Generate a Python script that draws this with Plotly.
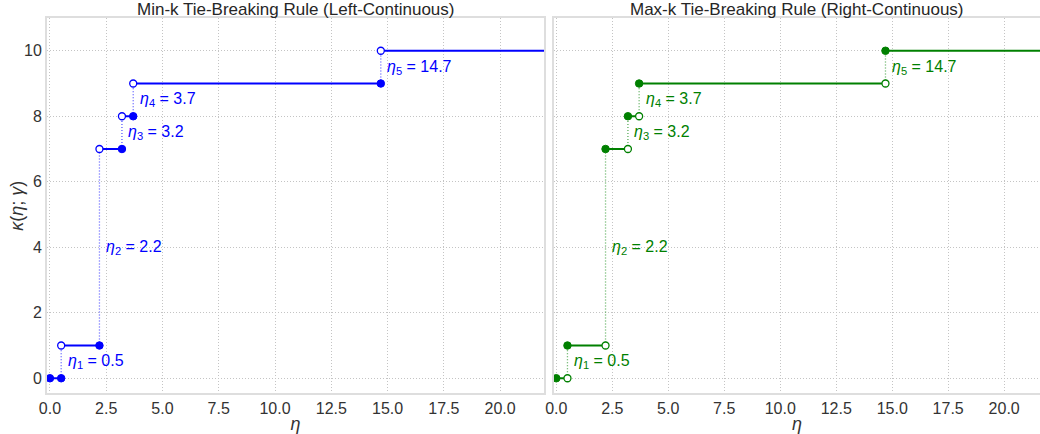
import plotly.graph_objects as go

# ---- data ----
breakpoints = [0.5, 2.2, 3.2, 3.7, 14.7]
levels = [0, 1, 7, 8, 9, 10]
x_start = 0.0
x_end = 23.0
eta_labels = ["0.5", "2.2", "3.2", "3.7", "14.7"]
titles = ["Min-k Tie-Breaking Rule (Left-Continuous)",
          "Max-k Tie-Breaking Rule (Right-Continuous)"]
colors = ["#0000ff", "#008000"]
x_ticks = [0.0, 2.5, 5.0, 7.5, 10.0, 12.5, 15.0, 17.5, 20.0]
y_ticks = [0, 2, 4, 6, 8, 10]

FONT = "Liberation Sans, Arial, sans-serif"
fig = go.Figure()

edges = [x_start] + breakpoints + [x_end]

for p, (color, mode) in enumerate(zip(colors, ["min", "max"])):
    xa = "x" if p == 0 else "x2"
    ya = "y" if p == 0 else "y2"
    # vertical dotted connectors
    for i, b in enumerate(breakpoints):
        fig.add_trace(go.Scatter(x=[b, b], y=[levels[i], levels[i + 1]], mode="lines",
                                 line=dict(color=color, width=1.3, dash="1px,2px"), opacity=0.65,
                                 xaxis=xa, yaxis=ya, showlegend=False, hoverinfo="skip"))
    # horizontal segments
    for i, lv in enumerate(levels):
        fig.add_trace(go.Scatter(x=[edges[i], edges[i + 1]], y=[lv, lv], mode="lines",
                                 line=dict(color=color, width=2),
                                 xaxis=xa, yaxis=ya, showlegend=False, hoverinfo="skip"))
    # endpoints
    filled_x, filled_y, open_x, open_y = [], [], [], []
    for i, lv in enumerate(levels):
        left, right = edges[i], edges[i + 1]
        has_right = i < len(breakpoints)
        if mode == "min":
            if i == 0:
                filled_x.append(left); filled_y.append(lv)
            else:
                open_x.append(left); open_y.append(lv)
            if has_right:
                filled_x.append(right); filled_y.append(lv)
        else:
            filled_x.append(left); filled_y.append(lv)
            if has_right:
                open_x.append(right); open_y.append(lv)
    fig.add_trace(go.Scatter(x=filled_x, y=filled_y, mode="markers",
                             marker=dict(color=color, size=7.5, line=dict(color=color, width=1)),
                             xaxis=xa, yaxis=ya, showlegend=False, cliponaxis=False))
    fig.add_trace(go.Scatter(x=open_x, y=open_y, mode="markers",
                             marker=dict(color="white", size=7, line=dict(color=color, width=1.3)),
                             xaxis=xa, yaxis=ya, showlegend=False, cliponaxis=False))
    # labels
    for i, b in enumerate(breakpoints):
        fig.add_annotation(x=b + 0.2, y=(levels[i] + levels[i + 1]) / 2, xref=xa, yref=ya,
                           text=f"<i>η</i><sub>{i + 1}</sub> = {eta_labels[i]}",
                           showarrow=False, xanchor="left", yanchor="middle",
                           font=dict(color=color, size=16, family=FONT))

axis_common = dict(showgrid=True, gridcolor="#c4c4c4", griddash="1px,2px", gridwidth=1,
                   zeroline=False, showline=True, linecolor="#dedede", linewidth=2,
                   ticks="", automargin=False,
                   tickfont=dict(size=16, color="#333333", family=FONT))

d1 = [0, 0.5005]
d2 = [0.5106, 1.0]
fig.update_layout(
    width=1040, height=434,
    margin=dict(l=47, r=0, t=18, b=41),
    plot_bgcolor="white", paper_bgcolor="white",
    font=dict(family=FONT, color="#333333"),
    xaxis=dict(domain=d1, range=[-0.13, 21.95], tickvals=x_ticks,
               ticktext=[f"{v:.1f}" for v in x_ticks], mirror=True, anchor="y",
               title=dict(text="<i>η</i>", font=dict(size=18, color="#333333"), standoff=2),
               **axis_common),
    yaxis=dict(domain=[0, 1], range=[-0.45, 11.0], tickvals=y_ticks, mirror=True, anchor="x",
               **axis_common),
    xaxis2=dict(domain=d2, range=[-0.1, 21.6], tickvals=x_ticks,
                ticktext=[f"{v:.1f}" for v in x_ticks], mirror=True, anchor="y2",
                title=dict(text="<i>η</i>", font=dict(size=18, color="#333333"), standoff=2),
                **axis_common),
    yaxis2=dict(domain=[0, 1], range=[-0.45, 11.0], tickvals=y_ticks, showticklabels=False,
                anchor="x2", **axis_common),
)

# y-axis title
fig.add_annotation(x=-0.031, y=0.5, xref="paper", yref="paper", textangle=-90,
                   text="<i>κ</i>(<i>η</i>; <i>γ</i>)", showarrow=False,
                   xanchor="center", yanchor="middle",
                   font=dict(size=18, color="#333333", family=FONT))

for d, t in zip([d1, d2], titles):
    fig.add_annotation(x=(d[0] + d[1]) / 2, y=1.0, xref="paper", yref="paper",
                       text=t, showarrow=False, xanchor="center", yanchor="bottom", yshift=-3,
                       font=dict(size=17, color="#262626", family=FONT))

fig.write_html("out.html", config={"displayModeBar": False},
               post_script="document.body.style.margin='0';document.body.style.overflow='hidden';")
